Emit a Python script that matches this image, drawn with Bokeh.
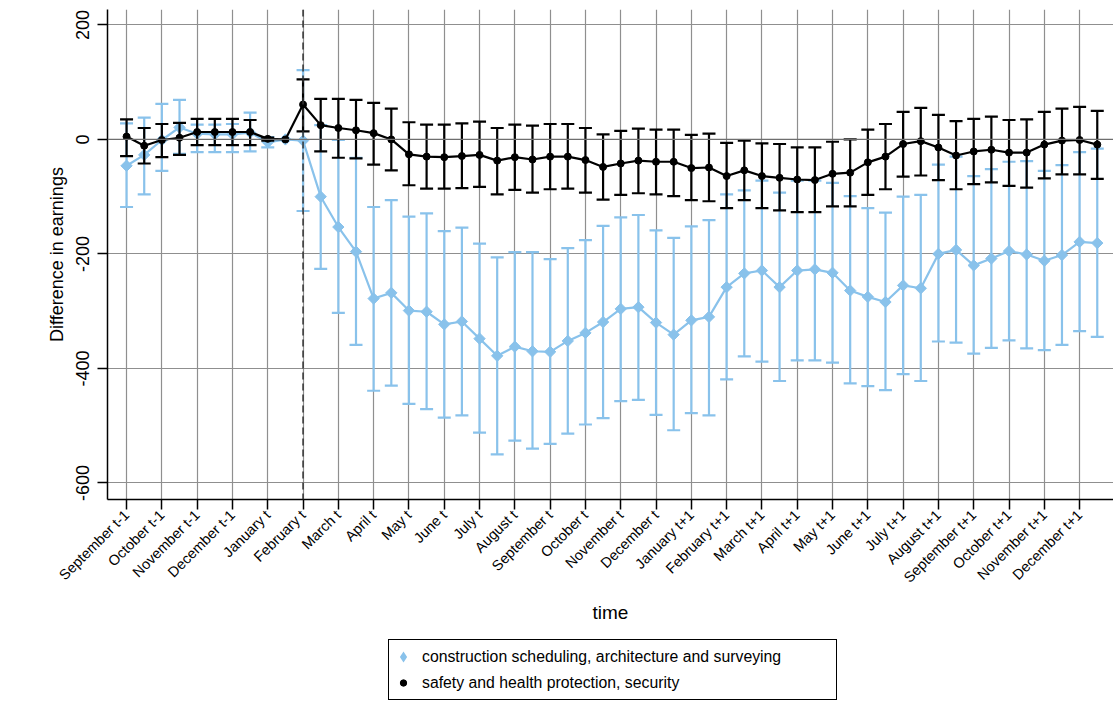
import math
from bokeh.plotting import figure
from bokeh.layouts import column
from bokeh.models import Range1d, FixedTicker, Legend, LegendItem, Span, ColumnDataSource
from bokeh.embed import file_html
from bokeh.resources import INLINE

NAN = float("nan")

month_labels = [
    "September t-1", "October t-1", "November t-1", "December t-1",
    "January t", "February t", "March t", "April t", "May t", "June t",
    "July t", "August t", "September t", "October t", "November t", "December t",
    "January t+1", "February t+1", "March t+1", "April t+1", "May t+1", "June t+1",
    "July t+1", "August t+1", "September t+1", "October t+1", "November t+1", "December t+1",
]
# half-month periods: label ticks fall on every second period
periods = list(range(56))
tick_periods = list(range(0, 56, 2))
event_period = 10

blue_name = "construction scheduling, architecture and surveying"
blue_mean = [-46, -27, -1, 21, 10, 9, 9, 12, -5, 0,
             -2, -100, -153, -196, -278, -268, -299, -301, -323, -318,
             -348, -378, -362, -370, -371, -352, -338, -319, -296, -293,
             -320, -341, -316, -310, -258, -234, -229, -258, -229, -227,
             -233, -264, -275, -284, -255, -260, -200, -193, -220, -208,
             -195, -201, -212, -202, -179, -181]
blue_hi = [28, 38, 62, 69, 26, 26, 27, 47, 4, NAN,
           121, 25, -1, -32, -118, -106, -135, -129, -160, -154,
           -182, -206, -197, -197, -209, -190, -176, -151, -136, -132,
           -159, -172, -152, -141, -96, -89, -72, -93, -72, -72,
           -76, -99, -120, -128, -100, -97, -44, -30, -64, -52,
           -39, -38, -55, -45, -22, -16]
blue_lo = [-118, -96, -55, -25, -22, -22, -22, -21, -14, NAN,
           -125, -226, -303, -359, -439, -430, -462, -471, -486, -482,
           -512, -550, -526, -540, -532, -514, -498, -487, -457, -455,
           -481, -508, -478, -482, -419, -379, -388, -422, -386, -386,
           -390, -426, -431, -438, -410, -422, -353, -355, -374, -364,
           -351, -365, -368, -359, -335, -345]

black_name = "safety and health protection, security"
black_mean = [5, -11, -1, 3, 13, 13, 13, 13, 1, 0,
              61, 25, 20, 16, 11, 0, -26, -30, -31, -29,
              -27, -37, -31, -35, -30, -30, -36, -48, -42, -37,
              -39, -39, -50, -49, -64, -54, -64, -67, -70, -71,
              -60, -58, -40, -30, -8, -3, -14, -28, -21, -18,
              -23, -23, -9, -2, -1, -9]
black_hi = [35, 20, 27, 29, 36, 36, 36, 34, 3, NAN,
            105, 71, 71, 69, 64, 54, 30, 26, 26, 28,
            31, 20, 26, 24, 27, 27, 20, 9, 15, 19,
            17, 17, 8, 10, -6, -2, -7, -8, -14, -14,
            -4, 0, 17, 27, 48, 55, 43, 32, 36, 40,
            34, 35, 48, 54, 57, 50]
black_lo = [-29, -42, -31, -27, -10, -10, -10, -10, -2, NAN,
            14, -21, -32, -33, -44, -54, -80, -86, -86, -85,
            -83, -96, -88, -93, -87, -86, -93, -105, -97, -94,
            -96, -99, -106, -108, -120, -106, -120, -124, -127, -127,
            -117, -117, -97, -87, -65, -63, -71, -87, -78, -75,
            -81, -84, -68, -61, -61, -69]

y_ticks = [200, 0, -200, -400, -600]

BLUE = "#89C2EB"
BLACK = "#000000"
FONT = "Liberation Sans"

p = figure(
    width=1113, height=632,
    x_range=Range1d(-1.08, 55.92), y_range=Range1d(-629, 227),
    output_backend="svg", toolbar_location=None,
    min_border_left=107, min_border_right=0, min_border_top=9, min_border_bottom=133,
)
p.outline_line_color = None
p.background_fill_color = "white"

# axes
xa = p.xaxis[0]
xa.ticker = FixedTicker(ticks=tick_periods)
xa.major_label_overrides = {t: lab for t, lab in zip(tick_periods, month_labels)}
xa.major_label_orientation = math.pi / 4
xa.major_label_text_font = FONT
xa.major_label_text_font_size = "14.5px"
xa.major_label_text_color = "black"
xa.major_label_standoff = 3
xa.major_tick_out = 10
xa.major_tick_in = 0
xa.minor_tick_out = 0
xa.minor_tick_in = 0
xa.axis_line_width = 1.5
xa.major_tick_line_width = 1.5
xa.axis_label = "time"
xa.axis_label_text_font = FONT
xa.axis_label_text_font_style = "normal"
xa.axis_label_text_font_size = "19px"
xa.axis_label_text_color = "black"
xa.axis_label_standoff = 8

ya = p.yaxis[0]
ya.ticker = FixedTicker(ticks=y_ticks)
ya.major_label_overrides = {t: str(t) for t in y_ticks}
ya.major_label_orientation = "vertical"
ya.major_label_text_font = FONT
ya.major_label_text_font_size = "18px"
ya.major_label_text_color = "black"
ya.major_label_standoff = 8
ya.major_tick_out = 10
ya.major_tick_in = 0
ya.minor_tick_out = 0
ya.minor_tick_in = 0
ya.axis_line_width = 1.5
ya.major_tick_line_width = 1.5
ya.axis_label = "Difference in earnings"
ya.axis_label_text_font = FONT
ya.axis_label_text_font_style = "normal"
ya.axis_label_text_font_size = "18px"
ya.axis_label_text_color = "black"
ya.axis_label_standoff = 7

p.xgrid.grid_line_color = "#8f8f8f"
p.xgrid.grid_line_width = 1.2
p.ygrid.grid_line_color = "#8f8f8f"
p.ygrid.grid_line_width = 1.2

p.add_layout(Span(location=0, dimension="width", line_color="#6e6e6e", line_width=1.3))
p.add_layout(Span(location=event_period, dimension="height", line_color="#333333",
                  line_width=1.5, line_dash="7 4"))

# (marker, size, angle): the diamond is a square turned by 45 degrees
MARKERS = {BLUE: ("square", 8, math.pi / 4), BLACK: ("circle", 7, 0.0)}
# legend keys are drawn unrotated, so use Bokeh's diamond there
KEYS = {BLUE: ("diamond", 8, 2.5), BLACK: ("circle", 7, 1.0)}

def series(mean, hi, lo, color):
    marker, size, angle = MARKERS[color]
    src = ColumnDataSource(dict(x=periods, m=mean, hi=hi, lo=lo))
    p.segment(x0="x", y0="lo", x1="x", y1="hi", source=src, line_color=color, line_width=2.2)
    p.scatter(x="x", y="hi", source=src, marker="dash", size=13, line_color=color, line_width=2.2)
    p.scatter(x="x", y="lo", source=src, marker="dash", size=13, line_color=color, line_width=2.2)
    p.line(x="x", y="m", source=src, line_color=color, line_width=2.2)
    p.scatter(x="x", y="m", source=src, marker=marker, size=size, angle=angle,
              fill_color=color, line_color=color)

series(blue_mean, blue_hi, blue_lo, BLUE)
series(black_mean, black_hi, black_lo, BLACK)

# legend strip below the chart: key glyphs sit outside its visible range
lg = figure(
    width=1113, height=69, x_range=Range1d(0, 1), y_range=Range1d(0, 1),
    output_backend="svg", toolbar_location=None,
    min_border_left=0, min_border_right=0, min_border_top=0, min_border_bottom=0,
)
lg.axis.visible = False
lg.grid.visible = False
lg.outline_line_color = None
items = []
for name, color in [(blue_name, BLUE), (black_name, BLACK)]:
    marker, size, lw = KEYS[color]
    key = lg.scatter(x=[5], y=[5], marker=marker, size=size, line_width=lw,
                     fill_color=color, line_color=color, line_join="miter")
    items.append(LegendItem(label=name, renderers=[key]))
legend = Legend(
    items=items, location=(281, 1), orientation="vertical",
    label_text_font=FONT, label_text_font_size="15.8px", label_text_color="black",
    label_width=408, label_height=21, glyph_width=16, glyph_height=21,
    label_standoff=11, spacing=5, padding=6, margin=0,
    border_line_color="black", border_line_width=1.5, border_line_alpha=1.0,
    background_fill_alpha=1.0,
)
lg.add_layout(legend, "center")

page = column(p, lg, spacing=0)
open("out.html", "w").write(file_html(page, INLINE))
